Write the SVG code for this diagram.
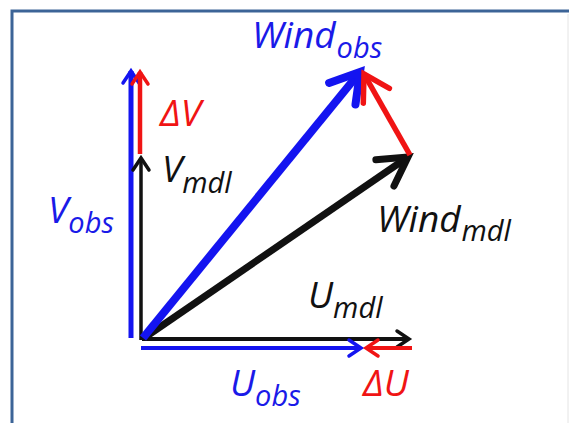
<svg xmlns="http://www.w3.org/2000/svg" width="569" height="423" viewBox="0 0 569 423">
<style>
  .t{font-family:"Open Sans","Liberation Sans",sans-serif;font-style:italic;font-size:37px}
  .s{font-size:29px}
  .b{fill:#1a1ae8}.r{fill:#f01414}.k{fill:#111}
  .lb{stroke:#1414f0;fill:none}.lr{stroke:#f01414;fill:none}.lk{stroke:#111;fill:none}
</style>
<defs>
  <marker id="hb" markerUnits="userSpaceOnUse" viewBox="-40 -25 50 50" markerWidth="50" markerHeight="50" refX="0" refY="0" orient="auto" overflow="visible">
    <path d="M-28,-17 L0,0 L-28,17" fill="none" stroke="#1414f0" stroke-width="8" stroke-linecap="round" stroke-linejoin="miter"/>
  </marker>
  <marker id="hk" markerUnits="userSpaceOnUse" viewBox="-40 -25 50 50" markerWidth="50" markerHeight="50" refX="0" refY="0" orient="auto" overflow="visible">
    <path d="M-28,-16 L0,0 L-28,16" fill="none" stroke="#111" stroke-width="7" stroke-linecap="round"/>
  </marker>
  <marker id="hr" markerUnits="userSpaceOnUse" viewBox="-40 -25 50 50" markerWidth="50" markerHeight="50" refX="0" refY="0" orient="auto" overflow="visible">
    <path d="M-25,-15 L0,0 L-25,15" fill="none" stroke="#f01414" stroke-width="5.5" stroke-linecap="round"/>
  </marker>
  <marker id="sb" markerUnits="userSpaceOnUse" viewBox="-20 -12 24 24" markerWidth="24" markerHeight="24" refX="0" refY="0" orient="auto" overflow="visible">
    <path d="M-12,-8 L0,0 L-12,8" fill="none" stroke="#1414f0" stroke-width="3.5" stroke-linecap="round"/>
  </marker>
  <marker id="sr" markerUnits="userSpaceOnUse" viewBox="-20 -12 24 24" markerWidth="24" markerHeight="24" refX="0" refY="0" orient="auto" overflow="visible">
    <path d="M-12,-8 L0,0 L-12,8" fill="none" stroke="#f01414" stroke-width="3.5" stroke-linecap="round"/>
  </marker>
  <marker id="sk" markerUnits="userSpaceOnUse" viewBox="-20 -12 24 24" markerWidth="24" markerHeight="24" refX="0" refY="0" orient="auto" overflow="visible">
    <path d="M-12,-8 L0,0 L-12,8" fill="none" stroke="#111" stroke-width="3.5" stroke-linecap="round"/>
  </marker>
</defs>
<rect x="0" y="0" width="569" height="423" fill="#fff"/>
<rect x="12" y="11" width="620" height="460" fill="#fff" stroke="#3c6497" stroke-width="3"/>
<line x1="568" y1="14" x2="568" y2="423" stroke="#e4e4e4" stroke-width="1"/>
<g id="connectors">
  <line class="lb" x1="131" y1="338" x2="131" y2="71" stroke-width="5" marker-end="url(#sb)"/>
  <line class="lr" x1="140" y1="154" x2="140" y2="72" stroke-width="4.5" marker-end="url(#sr)"/>
  <line class="lk" x1="141" y1="340" x2="141" y2="158" stroke-width="3.5" marker-end="url(#sk)"/>
  <line class="lk" x1="142" y1="339" x2="409" y2="339" stroke-width="4" marker-end="url(#sk)"/>
  <line class="lb" x1="141" y1="348" x2="361" y2="348" stroke-width="4" marker-end="url(#sb)"/>
  <line class="lr" x1="412" y1="348" x2="366" y2="348" stroke-width="4" marker-end="url(#sr)"/>
  <line class="lk" x1="144" y1="338" x2="408" y2="157" stroke-width="7" marker-end="url(#hk)"/>
  <line class="lb" x1="143" y1="338" x2="360" y2="72" stroke-width="8" marker-end="url(#hb)"/>
  <line class="lr" x1="410" y1="155" x2="364" y2="74" stroke-width="5.5" marker-end="url(#hr)"/>
</g>
<g id="windobs"><text class="t b" x="252" y="48">Wind<tspan class="s" dx="1" dy="10">obs</tspan></text></g>
<g id="deltav"><text class="t r" x="160" y="126">ΔV</text></g>
<g id="vmdl"><text class="t k" x="162" y="182">V<tspan class="s" dy="11">mdl</tspan></text></g>
<g id="vobs"><text class="t b" x="48" y="223">V<tspan class="s" dy="10">obs</tspan></text></g>
<g id="windmdl"><text class="t k" x="377" y="232">Wind<tspan class="s" dx="1" dy="9">mdl</tspan></text></g>
<g id="umdl"><text class="t k" x="308" y="308">U<tspan class="s" dy="10">mdl</tspan></text></g>
<g id="uobs"><text class="t b" x="230" y="396">U<tspan class="s" dy="10">obs</tspan></text></g>
<g id="deltau"><text class="t r" x="363" y="396">ΔU</text></g>
</svg>
